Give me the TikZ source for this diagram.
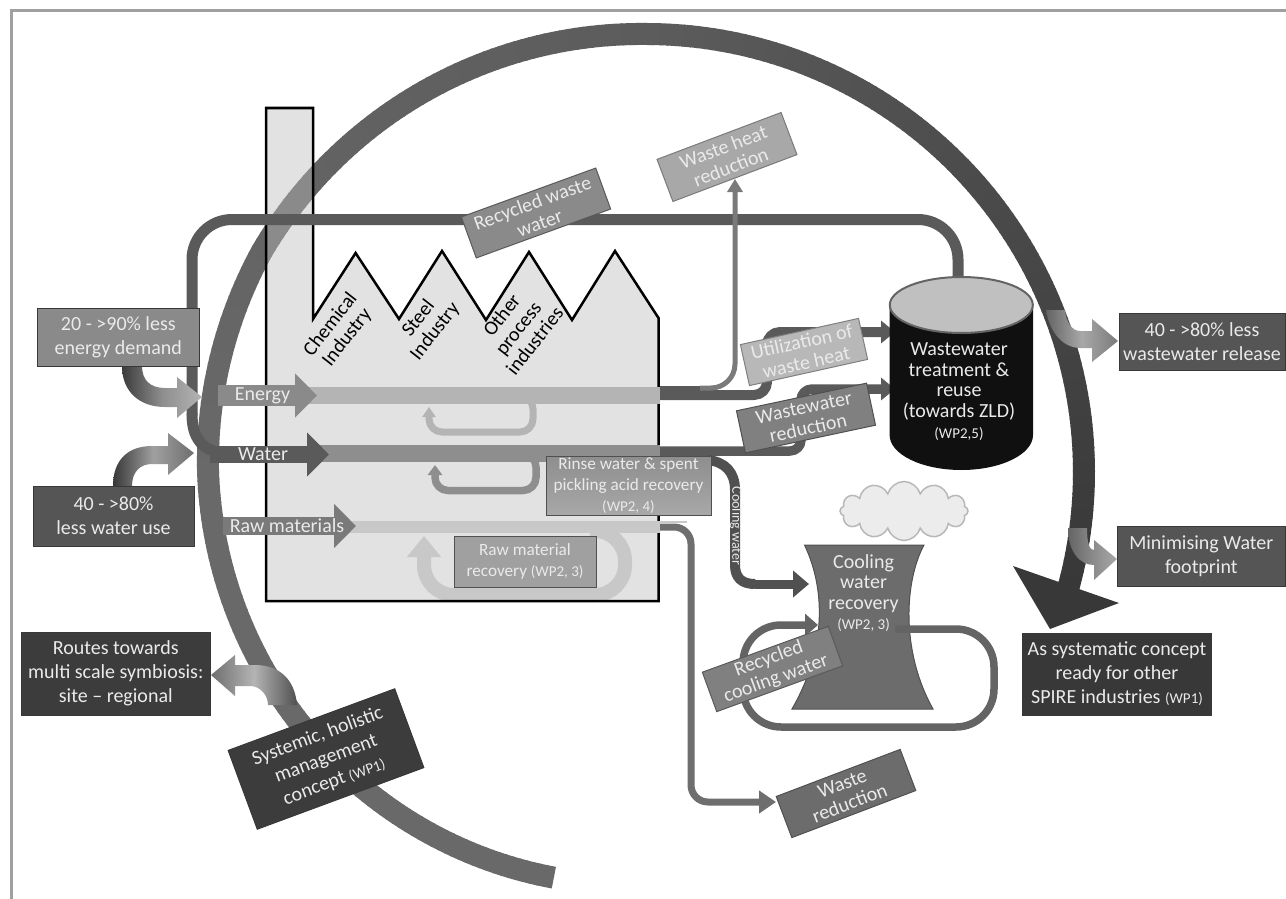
\documentclass[tikz,border=0pt]{standalone}
\usepackage{fontspec}
\setmainfont{Carlito}
\usetikzlibrary{arrows.meta,shapes.geometric,shapes.symbols}
\definecolor{g11}{HTML}{101010}
\definecolor{g38}{HTML}{383838}
\definecolor{g3c}{HTML}{3C3C3C}
\definecolor{g50}{HTML}{505050}
\definecolor{g55}{HTML}{555555}
\definecolor{g5a}{HTML}{5A5A5A}
\definecolor{g64}{HTML}{646464}
\definecolor{g6c}{HTML}{6C6C6C}
\definecolor{g6e}{HTML}{6E6E6E}
\definecolor{g7a}{HTML}{7A7A7A}
\definecolor{g80}{HTML}{808080}
\definecolor{g8a}{HTML}{8A8A8A}
\definecolor{g8e}{HTML}{8E8E8E}
\definecolor{ga0}{HTML}{A0A0A0}
\definecolor{ga8}{HTML}{A8A8A8}
\definecolor{gb4}{HTML}{B4B4B4}
\definecolor{gb8}{HTML}{B8B8B8}
\definecolor{gbd}{HTML}{BDBDBD}
\definecolor{gc0}{HTML}{C0C0C0}
\definecolor{gc8}{HTML}{C8C8C8}
\definecolor{gec}{HTML}{ECECEC}
\definecolor{lbl}{HTML}{EAEAEA}
\newcommand{\fntB}{\fontsize{20}{24}\selectfont}
\newcommand{\fntT}{\fontsize{20}{21}\selectfont}
\newcommand{\fntM}{\fontsize{17.2}{21}\selectfont}
\newcommand{\wpt}[1]{{\fontsize{15}{18}\selectfont #1}}
\tikzset{
  box/.style={draw=#1,line width=1pt,text=lbl,align=center,inner sep=0pt,font=\fntB},
  box/.default=g38,
  pipe/.style={line width=#1,line join=round},
  ftxt/.style={text=black,align=center,inner sep=0pt,rotate=52,font=\fntT},
  arrowlabel/.style={text=lbl,inner sep=0pt,font=\fntB},
  bent/.style={draw=none}
}
\begin{document}
\begin{tikzpicture}[x=1pt,y=-1pt,
  declare function={
    ringr(\a)=(\a<180)?(416+(\a-102.8)*0.285):((\a<210)?(438+(\a-180)*0.167):((\a<270)?(443-(\a-210)*0.083):438));
    ringg(\a)=(\a<180)?0.41:((\a<270)?(0.41-(\a-180)*0.00055):(0.36-(\a-270)*0.00135));
  }]
\useasboundingbox (0,0) rectangle (1286,899);
\fill[white] (0,0) rectangle (1286,899);
% frame
\draw[ga0,line width=3pt] (1286,11) -- (11,11) -- (11,899);
% big ring
\foreach \a in {102.8,103.8,...,376}{
  \pgfmathsetmacro\xa{646+ringr(\a)*cos(\a)}
  \pgfmathsetmacro\ya{472+ringr(\a)*sin(\a)}
  \pgfmathsetmacro\xb{646+ringr(\a+1.2)*cos(\a+1.2)}
  \pgfmathsetmacro\yb{472+ringr(\a+1.2)*sin(\a+1.2)}
  \pgfmathsetmacro\gv{ringg(\a)}
  \definecolor{ringc}{gray}{\gv}
  \draw[ringc,line width=22pt] (\xa,\ya) -- (\xb,\yb);
}
\coordinate (hA) at (1013,566);
\coordinate (hB) at (1119,603);
\coordinate (hC) at (1050,629);
\fill[g38] (hA) -- (hB) -- (hC) -- cycle;
% factory
\fill[gbd,fill opacity=.44] (266,108) -- (313,108) -- (313,319) -- (355.6,253) -- (399,319) -- (442,251) -- (486,320) -- (529,252) -- (572,320) -- (615,251) -- (658.5,318) -- (658.5,601) -- (266,601) -- cycle;
% raw material loop (under the outline)
\draw[gc8,pipe=14pt,rounded corners=30pt,-{Triangle[length=21pt,width=33pt]}] (590,531) -- (625,531) -- (625,595) -- (424,595) -- (424,536);
\draw[black,line width=2.5pt,line join=miter] (266,108) -- (313,108) -- (313,319) -- (355.6,253) -- (399,319) -- (442,251) -- (486,320) -- (529,252) -- (572,320) -- (615,251) -- (658.5,318) -- (658.5,601) -- (266,601) -- cycle;
% inner strips and loops
\draw[gb4,pipe=7pt,rounded corners=13pt,-{Triangle[length=10pt,width=13pt]}] (515,396) -- (533,396) -- (533,432) -- (429,432) -- (429,407);
\draw[g8e,pipe=7.5pt,rounded corners=13pt,-{Triangle[length=10pt,width=14pt]}] (515,454) -- (536,454) -- (536,490.5) -- (435,490.5) -- (435,465);
\draw[gb4,pipe=17pt] (305,395.5) -- (660,395.5);
\draw[g8e,pipe=17pt] (315,453.5) -- (660,453.5);
\draw[gc8,pipe=12pt] (340,527) -- (660,527);
% outer pipes
\draw[gc8,pipe=2pt] (658,522) -- (687,522);
\draw[g5a,pipe=10pt,rounded corners=13pt,-{Triangle[length=14pt,width=22pt]}] (660,395) -- (767,395) -- (767,332) -- (895,332);
\draw[g5a,pipe=9.5pt,rounded corners=11pt,-{Triangle[length=14pt,width=22pt]}] (660,451) -- (801,451) -- (801,389) -- (895,389);
\draw[g50,pipe=10pt] (708,460) .. controls (725,462) and (735,472) .. (735,490) -- (735,565) .. controls (735,578) and (742,584) .. (755,584);
\coordinate (coolS) at (755,584);
\coordinate (coolE) at (809,584);
\draw[g50,pipe=9pt,-{Triangle[length=16pt,width=26pt]}] (coolS) -- (coolE);
\draw[g6e,pipe=7pt,rounded corners=17pt,-{Triangle[length=17pt,width=22pt]}] (660,527) -- (691,527) -- (691,802) -- (776,802);
% recycled waste water main
\draw[g5a,pipe=11pt,rounded corners=40pt] (958,282) -- (958,219.5) -- (192,219.5) -- (192,415);
\draw[g5a,pipe=11pt] (192,414) .. controls (192,438) and (202,452) .. (228,454);
% waste heat line
\draw[g5a,pipe=5pt] (660,388) -- (712,388);
\draw[g7a,pipe=5pt,rounded corners=24pt,-{Triangle[length=13pt,width=15pt]}] (700,388) -- (735,388) -- (735,179);
% labelled inflow arrows
\coordinate (enS) at (218,395.5); \coordinate (enE) at (317,395.5);
\coordinate (waS) at (210,454.5); \coordinate (waE) at (329,454.5);
\coordinate (raS) at (223,526); \coordinate (raE) at (356,526);
\draw[g8a,pipe=21pt,-{Triangle[length=22pt,width=43pt]}] (enS) -- (enE);
\draw[g5a,pipe=17pt,-{Triangle[length=22pt,width=43pt]}] (waS) -- (waE);
\draw[g7a,pipe=18pt,-{Triangle[length=22pt,width=43pt]}] (raS) -- (raE);
\node[arrowlabel] (enL) at (262.5,396) {Energy};
\node[arrowlabel] (waL) at (263,454) {Water};
\node[arrowlabel] (raL) at (287,526) {Raw materials};
% factory labels
\node[ftxt] (chem) at (339,331) {Chemical\\Industry};
\node[ftxt] (steel) at (427,325) {Steel\\Industry};
\node[ftxt] (other) at (518,328) {Other\\process\\industries};
% bent gradient arrows
\path[bent,left color=g3c,right color=gb4,middle color=g8e] (122,366) .. controls (122,392) and (140,407) .. (165,407) -- (177,407) -- (177,418) -- (202,397) -- (177,377) -- (177,388) -- (165,388) .. controls (150,388) and (142,380) .. (142,366) -- cycle;
\path[bent,left color=g38,right color=g6e,middle color=ga0] (113,486) .. controls (113,460) and (128,446) .. (152,446) -- (168,446) -- (168,433) -- (194,453) -- (168,475) -- (168,464) -- (152,464) .. controls (140,464) and (132,472) .. (132,486) -- cycle;
\path[bent,left color=g64,right color=g7a,middle color=ga8] (1046,310) .. controls (1050,335) and (1065,348) .. (1080,348) -- (1092,348) -- (1092,362) -- (1118,341) -- (1092,319) -- (1092,331) -- (1080,331) .. controls (1072,331) and (1066,322) .. (1065,310) -- cycle;
\path[bent,left color=g64,right color=ga8,middle color=g8a] (1068,528) .. controls (1068,552) and (1080,565) .. (1094,565) -- (1094,580) -- (1117,559) -- (1094,540) -- (1094,550) .. controls (1090,550) and (1087,545) .. (1087,528) -- cycle;
\path[bent,left color=g6e,right color=g50,middle color=gb4] (297,705) .. controls (295,680) and (280,665) .. (255,665) -- (235,665) -- (235,655) -- (211,675) -- (235,696) -- (235,686) -- (250,686) .. controls (260,686) and (268,695) .. (268,705) -- cycle;
% cooling tower
\node[cloud,cloud puffs=12,aspect=2.2,draw=gb8,fill=gec,line width=1.5pt,minimum width=128pt,minimum height=59pt,inner sep=0pt] (cloudN) at (904,511) {};
\fill[g6c,draw=g50,line width=1pt] (804.5,545) -- (924,545) .. controls (905,580) and (900,650) .. (933,709) -- (792,709) .. controls (826,650) and (826,590) .. (804.5,545) -- cycle;
\node[text=lbl,align=center,inner sep=0pt,font=\fontsize{20}{20.5}\selectfont] (towerT) at (863.6,593) {Cooling\\water\\recovery\\\wpt{(WP2, 3)}};
\draw[g64,pipe=7.5pt,rounded corners=38pt,-{Triangle[length=13pt,width=22pt]}] (895,629) -- (994,629) -- (994,727) -- (743,727) -- (743,625) -- (818,625);
% wastewater tank
\fill[g11] (889.6,305) -- (889.6,435) .. controls (889.6,454.3) and (921.7,470) .. (961.3,470) .. controls (1000.9,470) and (1033,454.3) .. (1033,435) -- (1033,305) -- cycle;
\node[ellipse,draw=g64,fill=gc0,line width=2pt,minimum width=143pt,minimum height=56pt,inner sep=0pt] (tankTop) at (961.3,305) {};
\node[text=lbl,align=center,inner sep=0pt,font=\fontsize{20}{20.5}\selectfont] (tankT) at (959,392) {Wastewater\\treatment \&\\reuse\\(towards ZLD)\\[1pt]\wpt{(WP2,5)}};
% boxes
\node[box,fill=g8a,minimum width=161.5pt,minimum height=58pt] (energyB) at (118.3,337) {20 - >90\% less\\energy demand};
\node[box,fill=g55,minimum width=161pt,minimum height=60pt] (waterB) at (113.5,516) {40 - >80\%\\less water use};
\node[box,fill=g55,minimum width=166pt,minimum height=57pt] (relB) at (1202,341.5) {40 - >80\% less\\wastewater release};
\node[box,fill=g55,minimum width=167.5pt,minimum height=60pt] (minB) at (1201.3,556) {Minimising Water\\footprint};
\node[box,fill=g38,minimum width=189pt,minimum height=82pt] (sysB) at (1117,674) {As systematic concept\\ready for other\\SPIRE industries \wpt{(WP1)}};
\node[box,fill=g3c,minimum width=189.5pt,minimum height=83pt] (routesB) at (115.8,673.5) {Routes towards\\multi scale symbiosis:\\site -- regional};
\node[box,fill=g3c,minimum width=177.6pt,minimum height=84pt,rotate=20.3] (manB) at (326,759) {Systemic, holistic\\management\\concept \wpt{(WP1)}};
\node[box=g7a,fill=ga8,minimum width=132.6pt,minimum height=45pt,rotate=20.7,font=\fontsize{20}{21}\selectfont] (heatB) at (727,157) {Waste heat\\reduction};
\node[box=g5a,fill=g8a,minimum width=143pt,minimum height=43.6pt,rotate=20,font=\fontsize{20}{21}\selectfont] (recB) at (536,213) {Recycled waste\\water};
\node[box=g80,fill=gb8,minimum width=121pt,minimum height=42pt,rotate=12.5,font=\fontsize{20}{21}\selectfont] (utilB) at (804,352) {Utilization of\\waste heat};
\node[box=g50,fill=g80,minimum width=133pt,minimum height=43pt,rotate=12,font=\fontsize{20}{21}\selectfont] (redB) at (806,418) {Wastewater\\reduction};
\node[box=g50,top color=g8e,bottom color=ga8,minimum width=165pt,minimum height=59pt,font=\fntM] (rinseB) at (628.5,485.5) {Rinse water \& spent\\pickling acid recovery\\\wpt{(WP2, 4)}};
\node[box=g50,fill=ga0,minimum width=142pt,minimum height=51pt,font=\fntM] (rawB) at (525,561.5) {Raw material\\recovery \wpt{(WP2, 3)}};
\node[box=g5a,fill=g80,minimum width=134pt,minimum height=42pt,rotate=20,font=\fontsize{20}{21}\selectfont] (coolB) at (772.5,669) {Recycled\\cooling water};
\node[box=g50,fill=g6c,minimum width=132.6pt,minimum height=44pt,rotate=20.8,font=\fontsize{20}{21}\selectfont] (wasteB) at (846,793.5) {Waste\\reduction};
\node[text=lbl,inner sep=0pt,rotate=-90,font=\fontsize{14}{16}\selectfont] (coolW) at (736,526) {Cooling water};
\end{tikzpicture}
\end{document}
